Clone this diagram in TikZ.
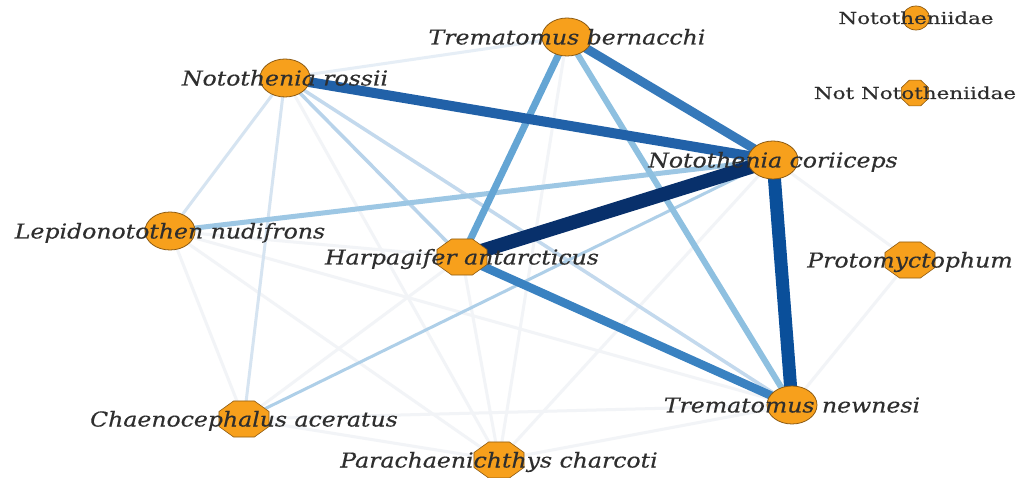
\documentclass[tikz,border=0pt]{standalone}
\usepackage{fontspec}
\newfontfamily\labfont[FakeStretch=1.15,FakeBold=0.4]{DejaVu Serif}
\newfontfamily\legfont[FakeStretch=1.3,FakeBold=0.35]{DejaVu Serif}
\usetikzlibrary{shapes.geometric}
\definecolor{nodeorange}{HTML}{F7A01C}
\definecolor{nodeedge}{HTML}{8C5A12}
\definecolor{labgray}{HTML}{2E2E2E}
\definecolor{ea}{HTML}{08306B}
\definecolor{eb}{HTML}{0A4F9A}
\definecolor{ec}{HTML}{2161A8}
\definecolor{ed}{HTML}{3679BA}
\definecolor{ee}{HTML}{3A82C1}
\definecolor{ef}{HTML}{64A5D4}
\definecolor{eg}{HTML}{8EC0E0}
\definecolor{eh}{HTML}{9DC7E4}
\definecolor{ei}{HTML}{AECFE8}
\definecolor{ej}{HTML}{B8D3EA}
\definecolor{ek}{HTML}{C3D9ED}
\definecolor{el}{HTML}{D6E4F1}
\definecolor{em}{HTML}{E6EEF6}
\definecolor{ez}{HTML}{F2F4F7}
\pgfdeclarelayer{bg}
\pgfdeclarelayer{edges}
\pgfsetlayers{bg,edges,main}
\begin{document}
\begin{tikzpicture}[x=1pt,y=-1pt,
  circ/.style={ellipse, minimum width=50pt, minimum height=38pt, inner sep=0pt,
    fill=nodeorange, draw=nodeedge, line width=0.8pt},
  oct/.style={regular polygon, regular polygon sides=8, minimum size=39pt, inner sep=0pt,
    xscale=1.39, transform shape, fill=nodeorange, draw=nodeedge, line width=0.6pt},
  legcirc/.style={ellipse, minimum width=27pt, minimum height=24pt, inner sep=0pt,
    fill=nodeorange, draw=nodeedge, line width=0.7pt},
  legoct/.style={regular polygon, regular polygon sides=8, minimum size=28pt, inner sep=0pt,
    xscale=1.05, transform shape, fill=nodeorange, draw=nodeedge, line width=0.6pt},
  lab/.style={font=\labfont\itshape\fontsize{20.5}{24}\selectfont, text=labgray,
    anchor=base, inner sep=0pt, yshift=-7.5pt},
  leglab/.style={font=\legfont\fontsize{16.5}{19}\selectfont, text=labgray,
    anchor=base, inner sep=0pt, yshift=-6pt},
  faint/.style={draw=ez, line width=3pt}
]
\begin{pgfonlayer}{bg}
\fill[white] (0,0) rectangle (1018,478);
\end{pgfonlayer}
\useasboundingbox (0,0) rectangle (1018,478);

% nodes
\node[circ] (ber) at (567,37) {};
\node[circ] (ros) at (285,78) {};
\node[circ] (cor) at (773,160) {};
\node[circ] (lep) at (170,231) {};
\node[oct] (harp) at (462,257) {};
\node[oct] (prot) at (910,260) {};
\node[oct] (chae) at (244,419) {};
\node[oct] (para) at (499,460) {};
\node[circ] (new) at (792,405) {};
\node[legcirc] (lg1) at (916,18) {};
\node[legoct] (lg2) at (915,93) {};

% edges
\begin{pgfonlayer}{edges}
\draw[faint] (lep.center) -- (chae.center);
\draw[faint] (lep.center) -- (para.center);
\draw[faint] (lep.center) -- (harp.center);
\draw[faint] (lep.center) -- (new.center);
\draw[faint] (chae.center) -- (harp.center);
\draw[faint] (chae.center) -- (para.center);
\draw[faint] (chae.center) -- (new.center);
\draw[faint] (para.center) -- (harp.center);
\draw[faint] (para.center) -- (cor.center);
\draw[faint] (para.center) -- (new.center);
\draw[faint] (para.center) -- (ros.center);
\draw[faint] (para.center) -- (ber.center);
\draw[faint] (prot.center) -- (cor.center);
\draw[faint] (prot.center) -- (new.center);
\draw[draw=em, line width=3pt] (ros.center) -- (ber.center);
\draw[draw=el, line width=3pt] (ros.center) -- (lep.center);
\draw[draw=el, line width=3pt] (ros.center) -- (chae.center);
\draw[draw=ek, line width=3.5pt] (ros.center) -- (new.center);
\draw[draw=ej, line width=3.5pt] (ros.center) -- (harp.center);
\draw[draw=ei, line width=3pt] (chae.center) -- (cor.center);
\draw[draw=eh, line width=5pt] (lep.center) -- (cor.center);
\draw[draw=eg, line width=6pt] (ber.center) -- (new.center);
\draw[draw=ef, line width=7pt] (ber.center) -- (harp.center);
\draw[draw=ee, line width=8.5pt] (harp.center) -- (new.center);
\draw[draw=ed, line width=9pt] (ber.center) -- (cor.center);
\draw[draw=ec, line width=10pt] (ros.center) -- (cor.center);
\draw[draw=eb, line width=13pt] (cor.center) -- (new.center);
\draw[draw=ea, line width=14pt] (harp.center) -- (cor.center);
\end{pgfonlayer}

% labels
\node[lab] (lber) at (ber) {Trematomus bernacchi};
\node[lab] (lros) at (ros) {Notothenia rossii};
\node[lab] (lcor) at (cor) {Notothenia coriiceps};
\node[lab] (llep) at (lep) {Lepidonotothen nudifrons};
\node[lab] (lharp) at (harp) {Harpagifer antarcticus};
\node[lab] (lprot) at (prot) {Protomyctophum};
\node[lab] (lchae) at (chae) {Chaenocephalus aceratus};
\node[lab] (lpara) at (para) {Parachaenichthys charcoti};
\node[lab] (lnew) at (new) {Trematomus newnesi};
\node[leglab] (llg1) at (lg1) {Nototheniidae};
\node[leglab] (llg2) at (lg2) {Not Nototheniidae};
\end{tikzpicture}
\end{document}
